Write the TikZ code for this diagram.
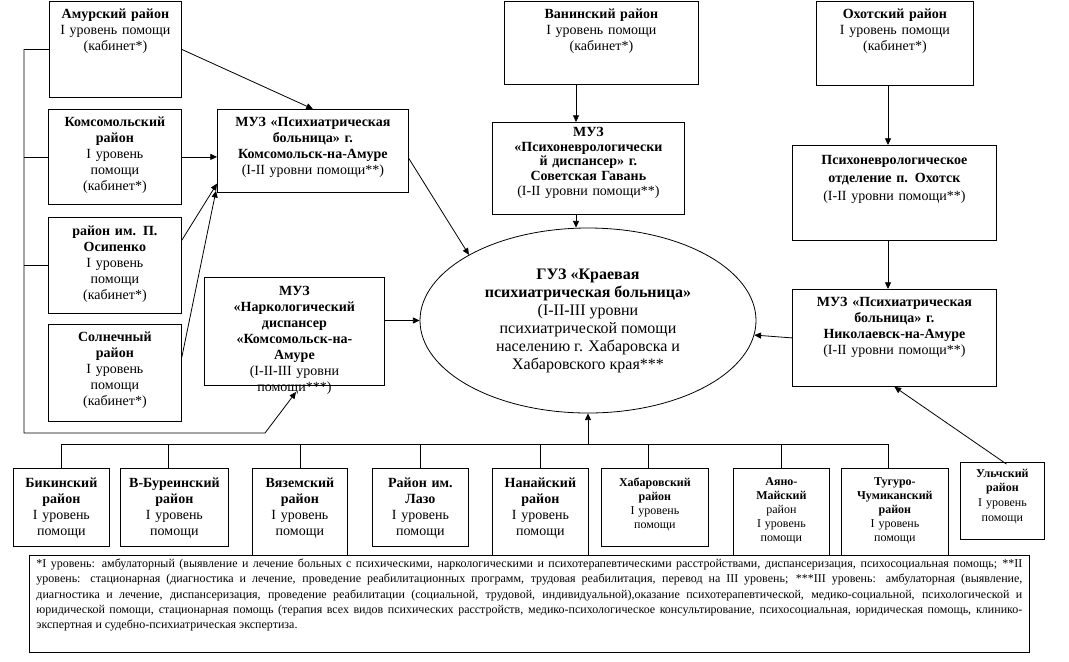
\documentclass[tikz,border=0pt]{standalone}
\usepackage{fontspec}
\setmainfont{Liberation Serif}
\usetikzlibrary{arrows.meta,shapes.geometric,calc}

\newcommand\rbox[8][]{%
  \pgfmathsetmacro\bw{(#5-#3)*0.75}%
  \pgfmathsetmacro\bh{(#6-#4)*0.75}%
  \pgfmathsetmacro\bd{\bh-#7}%
  \node[bx,#1,minimum width=\bw pt,minimum height=\bh pt,text width=\bw pt,
        text height=#7pt,text depth=\bd pt] (#2) at (#3,#4) {#8};}

\begin{document}
\begin{tikzpicture}[x=0.75pt,y=-0.75pt,line width=0.6pt,
  bx/.style={draw,anchor=north west,inner sep=0pt,align=center,
             font=\fontsize{10.5}{12}\selectfont},
  sm/.style={font=\fontsize{9}{10.5}\selectfont},
  arr/.style={-{Triangle[length=5pt,width=4.5pt]}}]
\useasboundingbox (0,0) rectangle (1069,661);

% --- left column
\rbox{amur}{49}{1}{181}{97}{13}{\textbf{Амурский район}\\I уровень помощи\\(кабинет*)}
\rbox{komr}{48}{109}{181}{204}{13}{\textbf{Комсомольский\\район}\\I уровень\\помощи\\(кабинет*)}
\rbox{osip}{48}{217}{181}{313}{13.5}{\textbf{район им. П.\\Осипенко}\\I уровень\\помощи\\(кабинет*)}
\rbox{soln}{48}{324}{181}{421}{13}{\textbf{Солнечный\\район}\\I уровень\\помощи\\(кабинет*)}

\rbox{kms}{217}{109}{408}{192}{12.5}{\textbf{МУЗ «Психиатрическая\\больница» г.\\Комсомольск-на-Амуре}\\(I-II уровни помощи**)}
\rbox{narc}{204}{277}{384}{385}{13.5}{\textbf{МУЗ\\«Наркологический\\диспансер\\«Комсомольск-на-\\Амуре}\\(I-II-III уровни\\помощи***)}

% --- middle
\rbox{van}{504}{1}{698}{84}{13}{\textbf{Ванинский район}\\I уровень помощи\\(кабинет*)}
\rbox[font=\fontsize{10.5}{11}\selectfont]{sgav}{492}{122}{684}{214}{10.5}{\textbf{МУЗ\\«Психоневрологически\\й диспансер» г.\\Советская Гавань}\\(I-II уровни помощи**)}

% --- right column
\rbox{okh}{816}{1}{973}{85}{12.5}{\textbf{Охотский район}\\I уровень помощи\\(кабинет*)}
\rbox[font=\fontsize{10.5}{13.5}\selectfont]{pno}{792}{145}{996}{240}{14}{\textbf{Психоневрологическое\\отделение п. Охотск}\\(I-II уровни помощи**)}
\rbox{nik}{792}{289}{996}{386}{12.75}{\textbf{МУЗ «Психиатрическая\\больница» г.\\Николаевск-на-Амуре}\\(I-II уровни помощи**)}

% --- centre ellipse
\node[draw,ellipse,minimum width=252pt,minimum height=138.75pt,inner sep=0pt,
      align=center,font=\fontsize{12}{13.5}\selectfont] (gkb) at (588,320.5)
  {\textbf{ГУЗ «Краевая}\\\textbf{психиатрическая больница»}\\(I-II-III уровни\\психиатрической помощи\\населению г. Хабаровска и\\Хабаровского края***};

% --- bottom row
\rbox{bik}{13}{468}{109}{546}{14}{\textbf{Бикинский\\район}\\I уровень\\помощи}
\rbox{bbur}{120}{468}{228}{546}{14}{\textbf{В-Буреинский\\район}\\I уровень\\помощи}
\rbox{vyaz}{252}{468}{347}{560}{14}{\textbf{Вяземский\\район}\\I уровень\\помощи}
\rbox{lazo}{372}{468}{468}{546}{14}{\textbf{Район им.\\Лазо}\\I уровень\\помощи}
\rbox{nanai}{492}{468}{588}{560}{14}{\textbf{Нанайский\\район}\\I уровень\\помощи}
\rbox[sm]{khab}{601}{468}{708}{546}{13.5}{\textbf{Хабаровский\\район}\\I уровень\\помощи}
\rbox[sm]{ayano}{733}{468}{829}{560}{13}{\textbf{Аяно-\\Майский}\\район\\I уровень\\помощи}
\rbox[sm]{tug}{841}{468}{948}{560}{13}{\textbf{Тугуро-\\Чумиканский\\район}\\I уровень\\помощи}
\rbox[font=\fontsize{9}{11}\selectfont]{ulch}{960}{462}{1044}{539}{11}{\textbf{Ульчский\\район}\\I уровень\\помощи}

% --- connectors, left
\coordinate (lc) at (24,433);
\coordinate (lk) at (265,433);
\coordinate (ntip) at (296,392);
\draw[arr] (amur.west) -| (lc) -- (lk) -- (ntip);
\draw (komr.west) -- (komr.west -| lc);
\draw (osip.west) -- (osip.west -| lc);
\draw[arr] (amur.east) -- (kms.north);
\draw[arr] (komr.east) -- (komr.east -| kms.west);
\draw[arr] ($(osip.north east)!0.24!(osip.south east)$) -- ($(kms.north west)!0.89!(kms.south west)$);
\draw[arr] ($(soln.north east)!0.34!(soln.south east)$) -- ([xshift=-0.75pt,yshift=1.5pt]kms.south west);
\draw[arr] ($(kms.north east)!0.59!(kms.south east)$) -- (gkb.north west);
\draw[arr] (narc.east |- gkb.west) -- (gkb.west);

% --- middle
\coordinate (vx) at (576,0);
\draw[arr] (van.south -| vx) -- (sgav.north -| vx);
\draw[arr] (sgav.south -| vx) -- (vx |- gkb.north);

% --- right
\coordinate (ox) at (888,0);
\draw[arr] (okh.south -| ox) -- (pno.north -| ox);
\draw[arr] (pno.south -| ox) -- (nik.north -| ox);
\draw[arr] (nik.west) -- (gkb.-5.7);
\draw[arr] ([xshift=3pt,yshift=-1.5pt]ulch.north) -- (nik.south);

% --- bottom bus
\coordinate (bus) at (0,444);
\draw (bik.north) |- ([xshift=-4.9pt]tug.north |- bus) -- ([xshift=-4.9pt]tug.north);
\foreach \n/\s in {bbur/-4.5,vyaz/0,lazo/0,nanai/0,khab/-4.9,ayano/0}
  \draw ([xshift=\s pt]\n.north) -- ([xshift=\s pt]\n.north |- bus);
\draw[arr] (gkb.south |- bus) -- (gkb.south);

% --- footnote
\node[draw,fill=white,anchor=north west,inner xsep=5.25pt,inner ysep=0pt,
      text width=739.5pt,align=justify,text height=9pt,text depth=63.75pt,
      font=\fontsize{9}{11.5}\selectfont] (note) at (29,555)
 {\hyphenpenalty=10000\exhyphenpenalty=10000
  *I уровень: амбулаторный (выявление и лечение больных с психическими, наркологическими и психотерапевтическими расстройствами, диспансеризация, психосоциальная помощь; **II\linebreak
  уровень: стационарная (диагностика и лечение, проведение реабилитационных программ, трудовая реабилитация, перевод на III уровень; ***III уровень: амбулаторная (выявление,\linebreak
  диагностика и лечение, диспансеризация, проведение реабилитации (социальной, трудовой, индивидуальной),оказание психотерапевтической, медико-социальной, психологической и\linebreak
  юридической помощи, стационарная помощь (терапия всех видов психических расстройств, медико-психологическое консультирование, психосоциальная, юридическая помощь, клинико-\linebreak
  экспертная и судебно-психиатрическая экспертиза.};
\end{tikzpicture}
\end{document}
